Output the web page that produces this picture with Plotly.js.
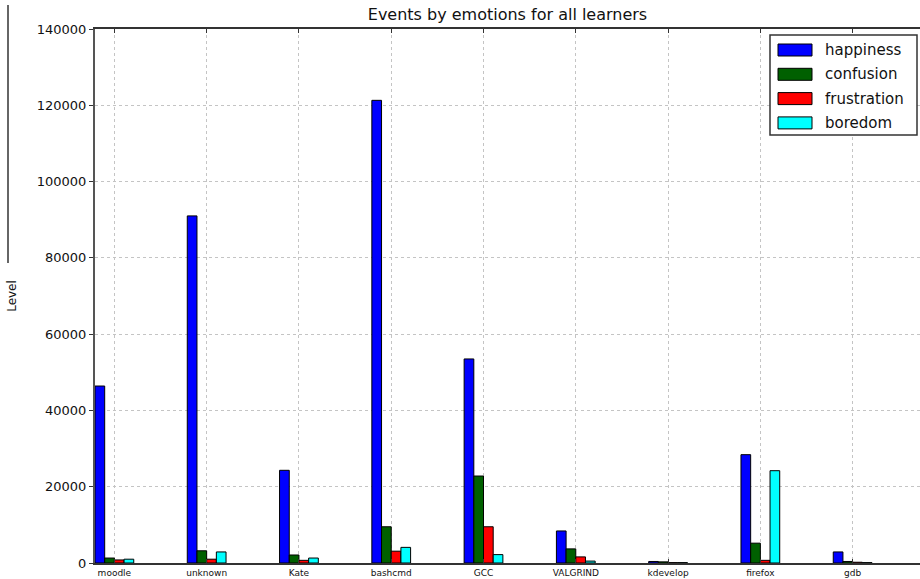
<!DOCTYPE html>
<html>
<head>
<meta charset="utf-8">
<script src="https://cdn.plot.ly/plotly-3.0.1.min.js"></script>
<style>
  html, body { margin: 0; padding: 0; background: #ffffff; }
  #chart { width: 920px; height: 579px; }
</style>
</head>
<body>
<div id="chart"></div>
<script>
// Applications on the x axis
const categories = ['moodle', 'unknown', 'Kate', 'bashcmd', 'GCC', 'VALGRIND', 'kdevelop', 'firefox', 'gdb'];

// Event counts per emotion
const happiness   = [46400, 91000, 24300, 121300, 53500, 8400, 400, 28400, 2900];
const confusion   = [1300, 3200, 2100, 9500, 22800, 3700, 300, 5200, 400];
const frustration = [800, 1000, 700, 3100, 9500, 1600, 100, 700, 200];
const boredom     = [1000, 2900, 1300, 4100, 2200, 500, 100, 24200, 100];

const seriesNames  = ['happiness', 'confusion', 'frustration', 'boredom'];
const seriesValues = [happiness, confusion, frustration, boredom];
const seriesColors = ['#0000ff', '#006000', '#ff0000', '#00ffff'];

const traces = seriesNames.map((name, i) => ({
  type: 'bar',
  name: name,
  x: categories,
  y: seriesValues[i],
  marker: { color: seriesColors[i], line: { color: '#000000', width: 1 } },
  showlegend: false,
  hoverinfo: 'x+y+name'
}));

// Plot area geometry (pixels) used to place the boxed legend
const W = 920, H = 579;
const margin = { l: 95, r: 0, t: 29, b: 16 };
const plotW = W - margin.l - margin.r;
const plotH = H - margin.t - margin.b;
const px = x => (x - margin.l) / plotW;
const py = y => (H - margin.b - y) / plotH;

const shapes = [
  // stray rule at the far left of the figure
  { type: 'line', xref: 'paper', yref: 'paper',
    x0: px(8), x1: px(8), y0: py(5), y1: py(263),
    line: { color: '#333333', width: 1.5 } },
  // legend frame
  { type: 'rect', xref: 'paper', yref: 'paper',
    x0: px(770), x1: px(917), y0: py(135), y1: py(35),
    fillcolor: '#ffffff', line: { color: '#333333', width: 1.5 }, layer: 'above' }
];
const annotations = [];

seriesNames.forEach((name, i) => {
  const cy = 50 + i * 24.3;
  shapes.push({
    type: 'rect', xref: 'paper', yref: 'paper',
    x0: px(778), x1: px(812), y0: py(cy + 6), y1: py(cy - 6),
    fillcolor: seriesColors[i], line: { color: '#000000', width: 1 }, layer: 'above'
  });
  annotations.push({
    xref: 'paper', yref: 'paper', x: px(823), y: py(cy),
    xanchor: 'left', yanchor: 'middle', showarrow: false,
    text: name, font: { family: 'DejaVu Sans, sans-serif', size: 15, color: '#111111' }
  });
});

const layout = {
  width: W,
  height: H,
  margin: margin,
  paper_bgcolor: '#ffffff',
  plot_bgcolor: '#ffffff',
  font: { family: 'DejaVu Sans, sans-serif', color: '#111111' },
  title: {
    text: 'Events by emotions for all learners',
    font: { size: 16, color: '#111111' },
    xref: 'paper', x: 0.5, xanchor: 'center',
    yref: 'container', y: 1 - 14 / H, yanchor: 'middle'
  },
  barmode: 'group',
  bargap: 0.58,
  bargroupgap: 0,
  showlegend: false,
  xaxis: {
    type: 'category',
    range: [-0.21, 8.73],
    showgrid: true,
    gridcolor: '#c4c4c4',
    griddash: 'dot',
    gridwidth: 1,
    showline: true,
    linecolor: '#333333',
    linewidth: 2,
    mirror: 'ticks',
    ticks: 'inside',
    ticklen: 4,
    tickcolor: '#333333',
    tickfont: { size: 9, color: '#111111' },
    zeroline: false,
    automargin: false
  },
  yaxis: {
    range: [0, 140000],
    dtick: 20000,
    tickformat: 'd',
    showgrid: true,
    gridcolor: '#c4c4c4',
    griddash: 'dot',
    gridwidth: 1,
    showline: true,
    linecolor: '#555555',
    linewidth: 2,
    ticks: 'outside',
    ticklen: 4,
    tickcolor: '#333333',
    tickfont: { size: 13, color: '#111111' },
    zeroline: false,
    automargin: false,
    title: { text: 'Level', font: { size: 12, color: '#111111' }, standoff: 18 }
  },
  shapes: shapes,
  annotations: annotations
};

Plotly.newPlot('chart', traces, layout, { displayModeBar: false, staticPlot: true });
</script>
</body>
</html>
